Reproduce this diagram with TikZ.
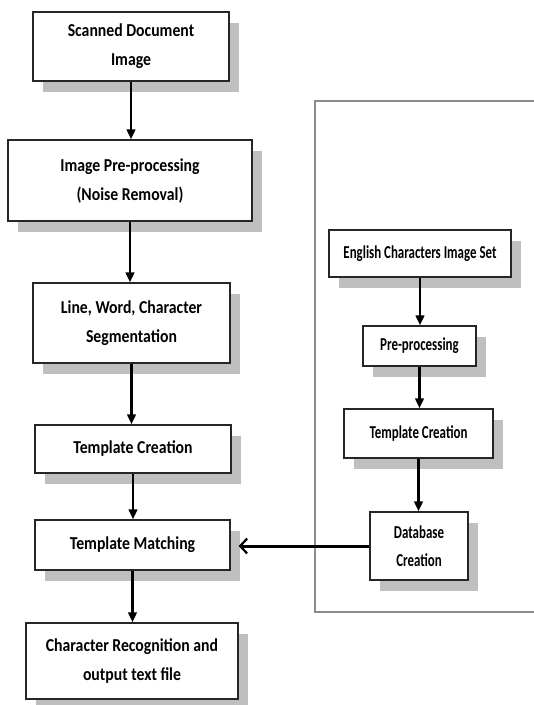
\documentclass[tikz,border=0pt]{standalone}
\usepackage{fontspec}
\setmainfont{Carlito}
\newfontfamily\leftfont[FakeStretch=0.865]{Carlito}
\newfontfamily\rightfont[FakeStretch=0.71]{Carlito}
\usetikzlibrary{arrows.meta,shadows}
\tikzset{
  box/.style={draw=black!85, line width=1.3pt, fill=white, inner sep=0pt, align=center,
    drop shadow={shadow xshift=9.5pt, shadow yshift=-10.5pt, fill=black!25, opacity=1}},
  bigtext/.style={font=\leftfont\fontsize{18.2}{29}\selectfont\bfseries},
  smalltext/.style={font=\rightfont\fontsize{18.2}{28}\selectfont\bfseries},
  varrow/.style={line width=2.6pt, -{Triangle[length=10pt,width=8.5pt]}},
  harrow/.style={line width=3pt, -{Straight Barb[length=7pt,width=15pt,line width=2.2pt]}},
  frame/.style={draw=black!45, line width=1.2pt}
}
\begin{document}
\begin{tikzpicture}[x=1pt,y=-1pt]
\useasboundingbox (0,0) rectangle (534,705);
% frame of the right-hand panel
\draw[frame] (534,101) -- (315,101) -- (315,612) -- (534,612);
% left column
\node[box,bigtext,minimum width=196pt,minimum height=69pt] (b1) at (131,46.5) {Scanned Document\\Image};
\node[box,bigtext,minimum width=244pt,minimum height=81pt] (b2) at (130,180.5) {Image Pre-processing\\(Noise Removal)};
\node[box,bigtext,minimum width=197pt,minimum height=80pt] (b3) at (131.5,323) {Line, Word, Character\\Segmentation};
\node[box,bigtext,minimum width=196pt,minimum height=48pt] (b4) at (133,449) {Template Creation};
\node[box,bigtext,minimum width=195pt,minimum height=50pt] (b5) at (132.5,545) {Template Matching};
\node[box,bigtext,minimum width=212pt,minimum height=76pt] (b6) at (132,661) {Character Recognition and\\output text file};
% right column
\node[box,smalltext,minimum width=182pt,minimum height=47pt] (r1) at (420,253.5) {English Characters Image Set};
\node[box,smalltext,minimum width=113pt,minimum height=40pt] (r2) at (419.5,346) {Pre-processing};
\node[box,smalltext,minimum width=149pt,minimum height=49pt] (r3) at (418.5,433.5) {Template Creation};
\node[box,smalltext,minimum width=98pt,minimum height=68pt] (r4) at (419,546) {Database\\Creation};
% arrows
\draw[varrow] (b1.south) -- (b1.south |- b2.north);
\draw[varrow] (b2.south) -- (b2.south |- b3.north);
\draw[varrow] (b3.south) -- (b3.south |- b4.north);
\draw[varrow] (b4.south) -- (b4.south |- b5.north);
\draw[varrow] (b5.south) -- (b5.south |- b6.north);
\draw[varrow] (r1.south) -- (r1.south |- r2.north);
\draw[varrow] (r2.south) -- (r2.south |- r3.north);
\draw[varrow] (r3.south) -- (r3.south |- r4.north);
\draw[harrow, shorten >=8pt] (r4.west) -- (r4.west -| b5.east);
\end{tikzpicture}
\end{document}
